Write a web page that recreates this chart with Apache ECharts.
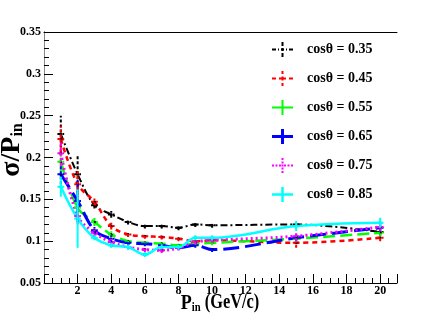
<!DOCTYPE html>
<html><head><meta charset="utf-8">
<script src="https://cdn.jsdelivr.net/npm/echarts@6/dist/echarts.min.js"></script>
<style>html,body{margin:0;padding:0;background:#fff}#c{width:441px;height:315px}</style>
</head><body><div id="c"></div>
<script>
// ---- data ----
const pIn = [1, 2, 3, 4, 5, 6, 7, 8, 9, 10, 15, 20];
const seriesNames = ['cosθ = 0.35', 'cosθ = 0.45', 'cosθ = 0.55', 'cosθ = 0.65', 'cosθ = 0.75', 'cosθ = 0.85'];
const cos035 = [0.228, 0.180, 0.143, 0.132, 0.123, 0.118, 0.118, 0.116, 0.120, 0.119, 0.120, 0.111];
const err035 = [0.022, 0.024, 0.004, 0.004, 0.003, 0.003, 0.003, 0.003, 0.003, 0.003, 0.003, 0.004];
const cos045 = [0.222, 0.168, 0.147, 0.118, 0.108, 0.106, 0.105, 0.103, 0.100, 0.101, 0.098, 0.104];
const err045 = [0.016, 0.018, 0.004, 0.004, 0.003, 0.003, 0.003, 0.003, 0.003, 0.003, 0.006, 0.004];
const cos055 = [0.195, 0.140, 0.123, 0.108, 0.100, 0.098, 0.097, 0.095, 0.097, 0.098, 0.103, 0.110];
const err055 = [0.012, 0.012, 0.005, 0.004, 0.003, 0.003, 0.003, 0.003, 0.003, 0.003, 0.004, 0.004];
const cos065 = [0.180, 0.148, 0.113, 0.103, 0.098, 0.097, 0.095, 0.092, 0.095, 0.090, 0.104, 0.116];
const err065 = [0.012, 0.025, 0.004, 0.004, 0.003, 0.003, 0.003, 0.003, 0.003, 0.003, 0.004, 0.004];
const cos075 = [0.205, 0.130, 0.110, 0.099, 0.093, 0.090, 0.089, 0.092, 0.099, 0.101, 0.106, 0.117];
const err075 = [0.015, 0.010, 0.004, 0.004, 0.003, 0.003, 0.003, 0.003, 0.003, 0.003, 0.006, 0.005];
const cos085 = [0.165, 0.127, 0.104, 0.095, 0.093, 0.084, 0.093, 0.093, 0.104, 0.104, 0.118, 0.122];
const err085 = [0.012, 0.035, 0.003, 0.003, 0.003, 0.003, 0.003, 0.003, 0.003, 0.003, 0.006, 0.006];
const xTickLabels = ['2', '4', '6', '8', '10', '12', '14', '16', '18', '20'];

// ---- styles ----
const values = [cos035, cos045, cos055, cos065, cos075, cos085];
const errors = [err035, err045, err055, err065, err075, err085];
const colors = ['#000000', '#ff0000', '#00ff00', '#0000ff', '#ff00ff', '#00ffff'];
const dashes = [[7, 3, 2, 3], [5, 4], [12, 5], [16, 6], [2, 3], null];
const widths = [2, 2.5, 2.5, 3, 3, 2.5];
const FONT = 'Liberation Serif';

function rects(hs, vs, t) {
  let p = '';
  hs.forEach(s => { p += 'M' + s[0] + ',' + (7.5 - t / 2) + 'H' + s[1] + 'V' + (7.5 + t / 2) + 'H' + s[0] + 'Z '; });
  vs.forEach(s => { p += 'M' + (10.5 - t / 2) + ',' + s[0] + 'H' + (10.5 + t / 2) + 'V' + s[1] + 'H' + (10.5 - t / 2) + 'Z '; });
  return 'path://' + p;
}
const icons = [
  rects([[0, 4], [6, 7], [9, 12], [14, 15], [17, 21]], [[0, 4], [6, 9], [11, 15]], 2),
  rects([[0, 4], [7, 14], [17, 21]], [[0, 3], [5.5, 9.5], [12, 15]], 2),
  rects([[0, 21]], [[0, 15]], 2),
  rects([[0, 21]], [[0, 15]], 3),
  rects([[0, 2], [3.5, 5.5], [7, 9], [9.5, 11.5], [12, 14], [15.5, 17.5], [19, 21]], [[0, 2], [3.5, 5.5], [6.5, 8.5], [9.5, 11.5], [13, 15]], 2),
  rects([[0, 21]], [[0, 15]], 2.5)
];

const series = [];
values.forEach((vals, i) => {
  series.push({
    name: seriesNames[i], type: 'line', xAxisIndex: 0, yAxisIndex: 0,
    data: pIn.map((x, k) => [x, vals[k]]),
    smooth: 0.35,
    symbol: 'circle', symbolSize: 3, showSymbol: true,
    itemStyle: { color: '#000' },
    lineStyle: { color: colors[i], width: widths[i], type: dashes[i] || 'solid' },
    z: 2 + i, animation: false
  });
  series.push({
    name: 'err' + i, type: 'custom', xAxisIndex: 0, yAxisIndex: 0,
    data: pIn.map((x, k) => [x, vals[k], errors[i][k]]),
    encode: { x: 0, y: 1 },
    renderItem: function (params, api) {
      const x = api.value(0), y = api.value(1), e = api.value(2);
      const a = api.coord([x, y - e]), b = api.coord([x, y + e]);
      const l = api.coord([x - 0.2, y]), r = api.coord([x + 0.2, y]);
      const st = { stroke: colors[i], lineWidth: 2, lineDash: dashes[i] ? [3, 2] : null };
      return { type: 'group', children: [
        { type: 'line', shape: { x1: a[0], y1: a[1], x2: b[0], y2: b[1] }, style: st },
        { type: 'line', shape: { x1: l[0], y1: l[1], x2: r[0], y2: r[1] }, style: st }
      ] };
    },
    z: 10, animation: false, silent: true
  });
});

const chart = echarts.init(document.getElementById('c'), null, { renderer: 'canvas' });
chart.setOption({
  animation: false,
  backgroundColor: '#fff',
  grid: { left: 44, right: 44, top: 32, bottom: 32, outerBoundsMode: 'none' },
  legend: {
    orient: 'vertical', left: 272, top: 42, padding: 0,
    itemWidth: 21, itemHeight: 15, itemGap: 14,
    data: seriesNames.map((n, i) => ({ name: n, icon: icons[i], itemStyle: { color: colors[i] } })),
    textStyle: { fontFamily: FONT, fontWeight: 'bold', fontSize: 14, color: '#000', padding: [0, 0, 0, 9] }
  },
  xAxis: [{
    type: 'value', min: 0, max: 21, interval: 2, position: 'bottom',
    axisLine: { lineStyle: { color: '#000', width: 1 } },
    axisTick: { inside: true, length: 9, lineStyle: { color: '#000' } },
    minorTick: { show: true, splitNumber: 4, length: 5, lineStyle: { color: '#000' } },
    axisLabel: { margin: 2, fontFamily: FONT, fontWeight: 'bold', fontSize: 12, color: '#000',
      formatter: v => (xTickLabels.indexOf(String(v)) >= 0 ? String(v) : '') },
    splitLine: { show: false }
  }, {
    type: 'value', min: 0, max: 21, position: 'top',
    axisLine: { lineStyle: { color: '#000', width: 1 } },
    axisTick: { show: false }, axisLabel: { show: false }, splitLine: { show: false }
  }],
  yAxis: [{
    type: 'value', min: 0.05, max: 0.35, interval: 0.05, position: 'left',
    axisLine: { show: true, lineStyle: { color: '#000', width: 1 } },
    axisTick: { show: true, inside: true, length: 9, lineStyle: { color: '#000' } },
    minorTick: { show: true, splitNumber: 5, length: 5, lineStyle: { color: '#000' } },
    axisLabel: { margin: 3, fontFamily: FONT, fontWeight: 'bold', fontSize: 12, color: '#000',
      formatter: v => String(+v.toFixed(2)) },
    splitLine: { show: false }
  }, {
    type: 'value', min: 0.05, max: 0.35, position: 'right',
    axisLine: { show: true, lineStyle: { color: '#888', width: 1 } },
    axisTick: { show: false }, axisLabel: { show: false }, splitLine: { show: false }
  }],
  graphic: [{
    type: 'text', x: 220, y: 303, scaleX: 0.82,
    style: {
      text: '{a|P}{b|in}{c| (GeV/c)}', align: 'center', verticalAlign: 'middle',
      rich: {
        a: { fontFamily: FONT, fontWeight: 'bold', fontSize: 22, fill: '#000' },
        b: { fontFamily: FONT, fontWeight: 'bold', fontSize: 13, fill: '#000', padding: [10, 0, 0, 0] },
        c: { fontFamily: FONT, fontWeight: 'bold', fontSize: 20, fill: '#000' }
      }
    }
  }, {
    type: 'text', x: 12, y: 150, rotation: Math.PI / 2,
    style: {
      text: '{a|σ/P}{b|in}', align: 'center', verticalAlign: 'middle',
      rich: {
        a: { fontFamily: FONT, fontWeight: 'bold', fontSize: 28, fill: '#000' },
        b: { fontFamily: FONT, fontWeight: 'bold', fontSize: 16, fill: '#000', padding: [12, 0, 0, 0] }
      }
    }
  }],
  series: series
});
</script></body></html>
